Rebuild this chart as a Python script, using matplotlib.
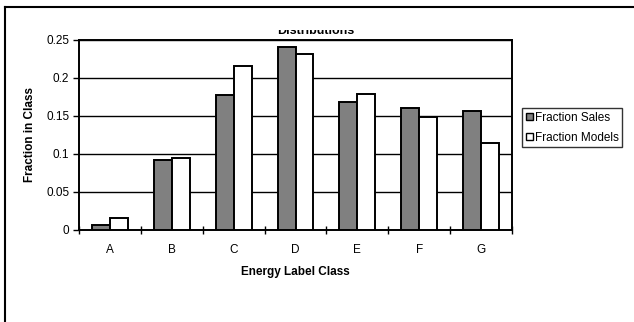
import matplotlib
matplotlib.use("Agg")
import matplotlib.pyplot as plt
import numpy as np
from matplotlib.lines import Line2D
from matplotlib.patches import Rectangle

plt.rcParams['font.family'] = ['Liberation Sans', 'DejaVu Sans']

categories = ['A', 'B', 'C', 'D', 'E', 'F', 'G']
fraction_sales = [0.006, 0.092, 0.178, 0.241, 0.169, 0.160, 0.157]
fraction_models = [0.016, 0.095, 0.216, 0.232, 0.179, 0.149, 0.115]
y_ticks = [0, 0.05, 0.1, 0.15, 0.2, 0.25]
y_tick_labels = ['0', '0.05', '0.1', '0.15', '0.2', '0.25']

W, H = 634, 322
fig = plt.figure(figsize=(W / 100, H / 100), dpi=100)
fig.patch.set_facecolor('white')

# plot area in pixel coordinates
left, right, top, bottom = 79, 512, 40, 230
ax = fig.add_axes([left / W, 1 - bottom / H, (right - left) / W, (bottom - top) / H])

x = np.arange(len(categories))
bw = 0.29
ax.bar(x - bw / 2, fraction_sales, bw, color='#808080', edgecolor='black',
       linewidth=1.4, label='Fraction Sales', zorder=3)
ax.bar(x + bw / 2, fraction_models, bw, color='white', edgecolor='black',
       linewidth=1.4, label='Fraction Models', zorder=3)

ax.set_xlim(-0.5, len(categories) - 0.5)
ax.set_ylim(0, 0.25)
ax.set_yticks(y_ticks)
ax.set_yticklabels(y_tick_labels)
ax.yaxis.grid(True, color='black', linewidth=1.0, zorder=0)
ax.set_axisbelow(True)

# category boundaries carry the x ticks, labels sit at the centres
ax.set_xticks(np.arange(len(categories) + 1) - 0.5)
ax.set_xticklabels([''] * (len(categories) + 1))
ax.set_xticks(x, minor=True)
ax.set_xticklabels(categories, minor=True)
ax.tick_params(axis='x', which='major', direction='inout', length=6, width=1, pad=2)
ax.tick_params(axis='x', which='minor', length=0, pad=10, labelsize=8.5)
ax.tick_params(axis='y', direction='out', length=4, width=1, labelsize=8.5, pad=3)

for s in ax.spines.values():
    s.set_linewidth(1.4)
    s.set_color('black')

ax.set_xlabel('Energy Label Class', fontsize=8.5, fontweight='bold', labelpad=7)
ax.set_ylabel('Fraction in Class', fontsize=8.5, fontweight='bold', labelpad=7)

leg = fig.legend(handles=[Rectangle((0, 0), 1, 1, facecolor='#808080', edgecolor='black', linewidth=1),
                          Rectangle((0, 0), 1, 1, facecolor='white', edgecolor='black', linewidth=1)],
                 labels=['Fraction Sales', 'Fraction Models'],
                 loc='upper left', bbox_to_anchor=(522 / W, 1 - 108 / H),
                 fontsize=8.5, frameon=True, fancybox=False, handlelength=0.6,
                 handleheight=0.6, handletextpad=0.2, borderpad=0.3,
                 labelspacing=0.7, borderaxespad=0)
leg.get_frame().set_edgecolor('black')
leg.get_frame().set_linewidth(1)

# chart title, mostly hidden under the top edge
fig.text(316 / W, 1 - 34 / H, 'Distributions', ha='center', va='baseline',
         fontsize=9, fontweight='bold')
fig.patches.append(Rectangle((260 / W, 1 - 30 / H), 115 / W, 21 / H,
                             transform=fig.transFigure, facecolor='white',
                             edgecolor='none', zorder=5))

# outer chart border
fig.add_artist(Line2D([5 / W, 5 / W], [0, 1 - 7 / H], transform=fig.transFigure,
                      color='black', linewidth=1.5))
fig.add_artist(Line2D([5 / W, 1], [1 - 7 / H, 1 - 7 / H], transform=fig.transFigure,
                      color='black', linewidth=1.5))

fig.savefig('out.png', dpi=100, facecolor='white')
